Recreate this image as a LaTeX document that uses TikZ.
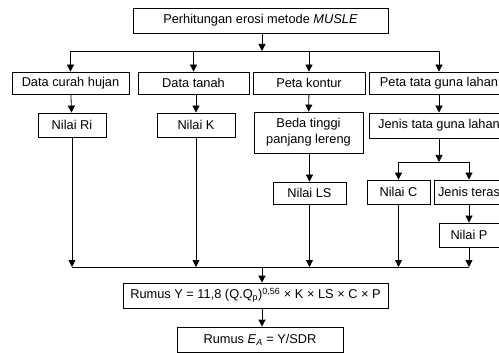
\documentclass[tikz,border=0pt]{standalone}
\usepackage{fontspec}
\setmainfont{Liberation Sans}
\usetikzlibrary{positioning, arrows.meta}

\tikzset{
    kotak/.style={draw=black, line width=0.8pt, inner sep=2pt, align=center,
        font=\fontsize{12.8}{16}\selectfont},
    panah/.style={line width=0.8pt, -{Triangle[length=7pt, width=7pt]}},
    garis/.style={line width=0.8pt}
}

\begin{document}
\begin{tikzpicture}[x=1pt, y=-1pt]
    \clip (0,0) rectangle (499,353);

    % judul
    \node[kotak, minimum width=255pt, minimum height=25pt] (judul) at (260.5,20.5) {Perhitungan erosi metode \textit{MUSLE}};

    % baris data
    \node[kotak, minimum width=117pt, minimum height=22pt] (hujan) at (70.5,83) {Data curah hujan};
    \node[kotak, minimum width=111pt, minimum height=22pt] (tanah) at (193.5,83) {Data tanah};
    \node[kotak, minimum width=112pt, minimum height=22pt] (kontur) at (309,83) {Peta kontur};
    \node[kotak, minimum width=140pt, minimum height=22pt] (lahan) at (439,83) {Peta tata guna lahan};

    % baris kedua
    \node[kotak, minimum width=68pt, minimum height=24pt] (ri) at (72,125) {Nilai Ri};
    \node[kotak, minimum width=78pt, minimum height=24pt] (nk) at (196,125) {Nilai K};
    \node[kotak, minimum width=109pt, minimum height=41pt] (beda) at (308.5,132.5) {Beda tinggi\\panjang lereng};
    \node[kotak, minimum width=140pt, minimum height=25pt] (jenis) at (439,125.5) {Jenis tata guna lahan};

    % baris ketiga
    \node[kotak, minimum width=73pt, minimum height=22pt] (ls) at (309.5,193) {Nilai LS};
    \node[kotak, minimum width=63pt, minimum height=24pt] (nc) at (398.5,192) {Nilai C};
    \node[kotak, minimum width=70pt, minimum height=24pt] (teras) at (469,192) {Jenis teras};
    \node[kotak, minimum width=60pt, minimum height=24pt] (np) at (469,235) {Nilai P};

    % rumus
    \node[kotak, minimum width=265pt, minimum height=25pt] (rumusy) at (255.5,295.5)
        {Rumus Y = 11,8 (Q.Q\textsubscript{p})\textsuperscript{0,56} × K × LS × C × P};
    \node[kotak, minimum width=166pt, minimum height=25pt] (rumuse) at (260,339.5)
        {Rumus \textit{E}\textsubscript{\textit{A}} = Y/SDR};

    % rel penghubung
    \coordinate (rel1) at (262,51);
    \coordinate (rel2) at (439,162);
    \coordinate (rel3) at (262,267);

    \draw[panah] (judul.south -| rel1) -- (rel1);
    \draw[garis] (hujan |- rel1) -- (lahan |- rel1);
    \foreach \n in {hujan, tanah, kontur, lahan}
        \draw[panah] (\n |- rel1) -- (\n.north);

    \draw[panah] (hujan) -- (ri);
    \draw[panah] (tanah.south -| nk) -- (nk);
    \draw[panah] (kontur) -- (beda);
    \draw[panah] (lahan) -- (jenis);

    \draw[panah] (beda.south -| ls) -- (ls);
    \draw[panah] (jenis) -- (rel2);
    \draw[garis] (nc |- rel2) -- (teras |- rel2);
    \draw[panah] (nc |- rel2) -- (nc);
    \draw[panah] (teras |- rel2) -- (teras);
    \draw[panah] (teras) -- (np);

    \foreach \n in {ri, nk, ls, nc, np}
        \draw[panah] (\n) -- (\n |- rel3);
    \draw[garis] (ri |- rel3) -- (np |- rel3);
    \draw[panah] (rel3) -- (rel3 |- rumusy.north);
    \draw[panah] (rumusy.south -| rel3) -- (rel3 |- rumuse.north);
\end{tikzpicture}
\end{document}
